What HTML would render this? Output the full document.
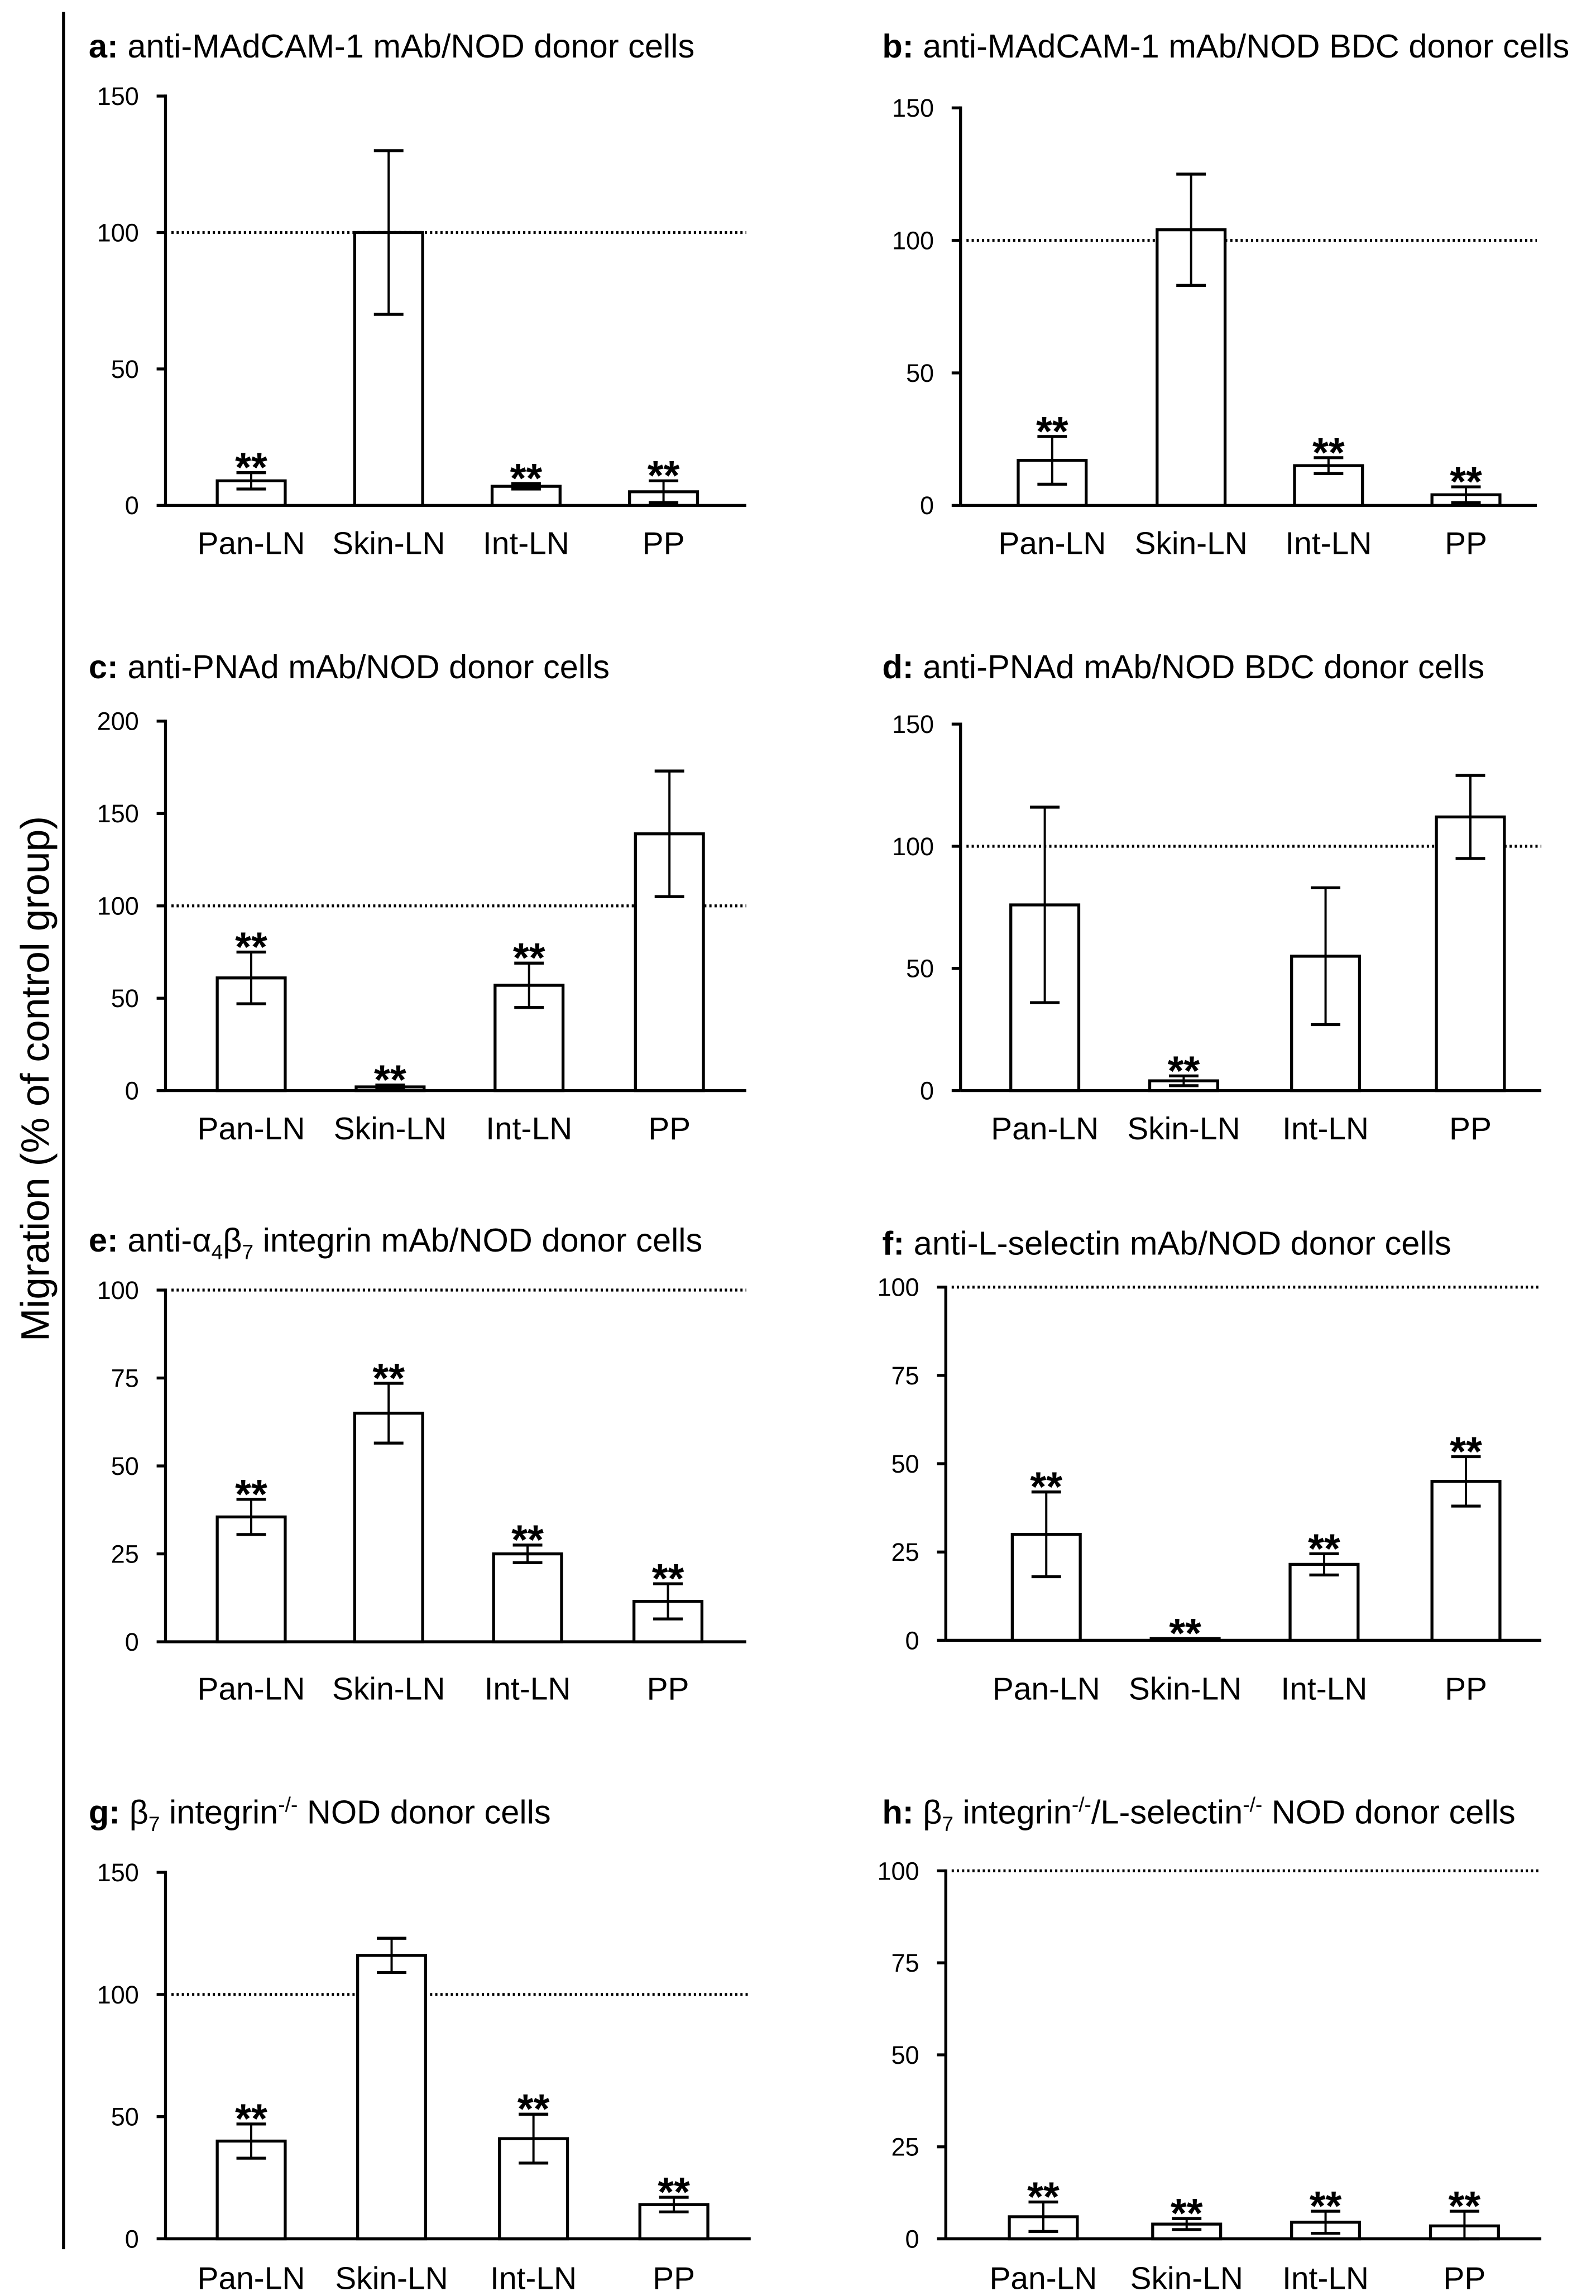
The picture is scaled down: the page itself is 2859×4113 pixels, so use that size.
<!DOCTYPE html>
<html><head><meta charset="utf-8"><style>
html,body{margin:0;padding:0;background:#fff;}
svg{display:block;font-family:"Liberation Sans",Arial,sans-serif;}
</style></head><body>
<svg id="fig" width="2859" height="4113" viewBox="0 0 1080 1553.7" xmlns="http://www.w3.org/2000/svg">
<line x1="43" y1="8" x2="43" y2="1522" stroke="#000" stroke-width="2"/>
<text transform="translate(33,730) rotate(-90)" text-anchor="middle" font-size="27">Migration (% of control group)</text>
</svg>
<script>
const cats = ["Pan-LN","Skin-LN","Int-LN","PP"];
const valsA = [9,100,7,5];      const errA = [3,30,1,4];     const starA=[1,0,1,1];
const valsB = [17,104,15,4];    const errB = [9,21,3,3];     const starB=[1,0,1,1];
const valsC = [61,2,57,139];    const errC = [14,1,12,34];   const starC=[1,1,1,0];
const valsD = [76,4,55,112];    const errD = [40,2,28,17];   const starD=[0,1,0,0];
const valsE = [35.5,65,25,11.5];const errE = [5,8.5,2.5,5];  const starE=[1,1,1,1];
const valsF = [30,0.5,21.5,45]; const errF = [12,0,3,7];     const starF=[1,1,1,1];
const valsG = [40,116,41,14];   const errG = [7,7,10,3];     const starG=[1,0,1,1];
const valsH = [6,4,4.5,3.5];    const errH = [4,1.5,3,4];    const starH=[1,1,1,1];
const ticksA=[0,50,100,150], ticksC=[0,50,100,150,200], ticksE=[0,25,50,75,100];

const NS="http://www.w3.org/2000/svg";
const svg=document.getElementById('fig');
function mk(tag,attrs,parent){const e=document.createElementNS(NS,tag);for(const k in attrs)e.setAttribute(k,attrs[k]);(parent||svg).appendChild(e);return e;}

const panels=[
 {id:'a',title:[['b','a: '],['t','anti-MAdCAM-1 mAb/NOD donor cells']],tx:60,ty:39,ax:112,x1:505,yTop:65,y0:342,max:150,ticks:ticksA,cx:[170,263,356,449],v:valsA,e:errA,s:starA,ly:375},
 {id:'b',title:[['b','b: '],['t','anti-MAdCAM-1 mAb/NOD BDC donor cells']],tx:597,ty:39,ax:650,x1:1040,yTop:73,y0:342,max:150,ticks:ticksA,cx:[712,806,899,992],v:valsB,e:errB,s:starB,ly:375},
 {id:'c',title:[['b','c: '],['t','anti-PNAd mAb/NOD donor cells']],tx:60,ty:459,ax:112,x1:505,yTop:488,y0:738,max:200,ticks:ticksC,cx:[170,264,358,453],v:valsC,e:errC,s:starC,ly:771},
 {id:'d',title:[['b','d: '],['t','anti-PNAd mAb/NOD BDC donor cells']],tx:597,ty:459,ax:650,x1:1043,yTop:490,y0:738,max:150,ticks:ticksA,cx:[707,801,897,995],v:valsD,e:errD,s:starD,ly:771},
 {id:'e',title:[['b','e: '],['t','anti-'],['t','α'],['sub','4'],['t','β'],['sub','7'],['t',' integrin mAb/NOD donor cells']],tx:60,ty:847,ax:112,x1:505,yTop:873,y0:1111,max:100,ticks:ticksE,cx:[170,263,357,452],v:valsE,e:errE,s:starE,ly:1150},
 {id:'f',title:[['b','f: '],['t','anti-L-selectin mAb/NOD donor cells']],tx:597,ty:849,ax:640,x1:1043,yTop:871,y0:1110,max:100,ticks:ticksE,cx:[708,802,896,992],v:valsF,e:errF,s:starF,ly:1150},
 {id:'g',title:[['b','g: '],['t','β'],['sub','7'],['t',' integrin'],['sup','-/-'],['t',' NOD donor cells']],tx:60,ty:1234,ax:112,x1:508,yTop:1267,y0:1515,max:150,ticks:ticksA,cx:[170,265,361,456],v:valsG,e:errG,s:starG,ly:1549},
 {id:'h',title:[['b','h: '],['t','β'],['sub','7'],['t',' integrin'],['sup','-/-'],['t','/L-selectin'],['sup','-/-'],['t',' NOD donor cells']],tx:597,ty:1234,ax:640,x1:1043,yTop:1266,y0:1515,max:100,ticks:ticksE,cx:[706,803,897,991],v:valsH,e:errH,s:starH,ly:1549}
];

panels.forEach(p=>{
  const g=mk('g',{});
  
  
  const y=v=>p.y0-(v/p.max)*(p.y0-p.yTop);
  const t=mk('text',{x:p.tx,y:p.ty,'font-size':22.5},g);
  
  
  let prev=0;
  p.title.forEach(([k,s])=>{
    const ts=mk('tspan',{},t);ts.textContent=s;
    if(k==='b')ts.setAttribute('font-weight','bold');
    let cur=0;
    if(k==='sub'){ts.setAttribute('font-size','14');cur=5;}
    if(k==='sup'){ts.setAttribute('font-size','14');cur=-8;}
    ts.setAttribute('dy',cur-prev);
    prev=cur;
  });
  const ya=mk('line',{x1:p.ax,y1:p.yTop-1,x2:p.ax,y2:p.y0,stroke:'#000','stroke-width':2},g);
  
  
  const xa=mk('line',{x1:p.ax,y1:p.y0,x2:p.x1,y2:p.y0,stroke:'#000','stroke-width':2},g);
  
  
  p.ticks.forEach(tv=>{
    mk('line',{x1:p.ax-6,y1:y(tv),x2:p.ax,y2:y(tv),stroke:'#000','stroke-width':2},g);
    const tl=mk('text',{x:p.ax-18,y:y(tv)+6,'font-size':17,'text-anchor':'end'},g);
    
    
    tl.textContent=tv;
  });
  const ref=mk('line',{x1:p.ax+4,y1:y(100),x2:p.x1,y2:y(100),stroke:'#000','stroke-width':2,'stroke-dasharray':'1.5 2'},g);
  
  
  cats.forEach((c,i)=>{
    const v=p.v[i],er=p.e[i],cx=p.cx[i];
    const b=mk('rect',{x:cx-23,y:y(v),width:46,height:p.y0-y(v),fill:'#fff',stroke:'#000','stroke-width':2},g);
    
    
    if(er>0){
      mk('line',{x1:cx,y1:y(v+er),x2:cx,y2:y(Math.max(0,v-er)),stroke:'#000','stroke-width':1.5},g);
      mk('line',{x1:cx-10,y1:y(v+er),x2:cx+10,y2:y(v+er),stroke:'#000','stroke-width':2},g);
      mk('line',{x1:cx-10,y1:y(Math.max(0,v-er)),x2:cx+10,y2:y(Math.max(0,v-er)),stroke:'#000','stroke-width':2},g);
    }
    if(p.s[i]){
      const st=mk('text',{x:cx,y:y(v+er)+6,'font-size':28,'font-weight':'bold','text-anchor':'middle'},g);
      
      
      st.textContent='**';
    }
    const xl=mk('text',{x:cx,y:p.ly,'font-size':21.5,'text-anchor':'middle'},g);
    
    
    xl.textContent=c;
  });
});
</script>
</body></html>
